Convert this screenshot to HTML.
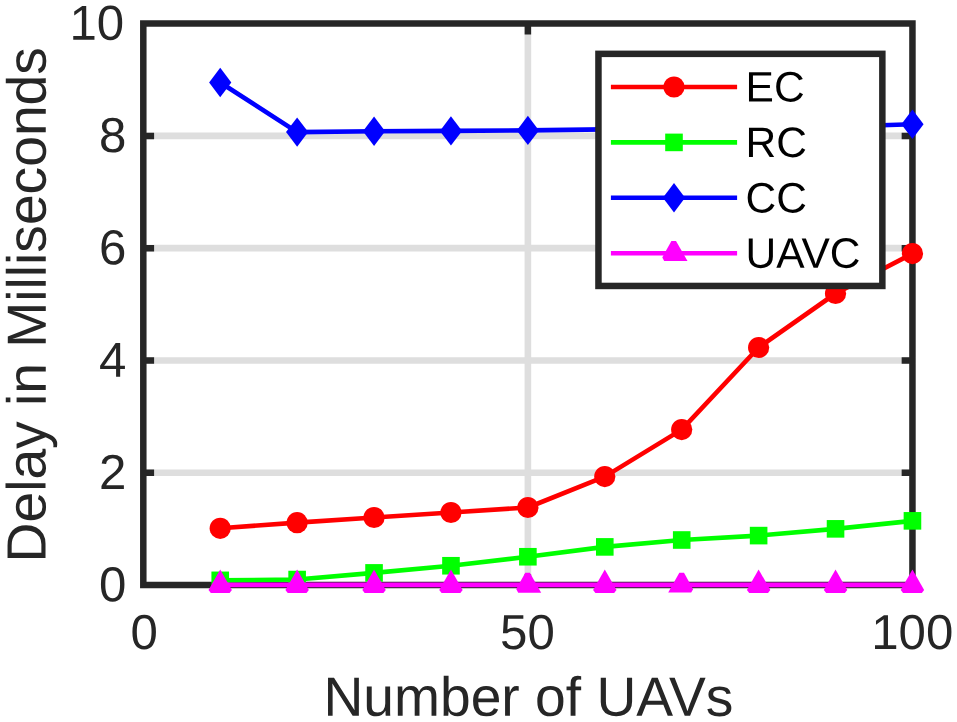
<!DOCTYPE html><html><head><meta charset="utf-8"><title>Delay vs Number of UAVs</title><style>html,body{margin:0;padding:0;background:#fff;}svg{display:block;will-change:transform;}text{font-family:"Liberation Sans",sans-serif;}</style></head><body>
<svg width="957" height="722" viewBox="0 0 957 722">
<rect width="957" height="722" fill="#fff"/>
<path d="M143.3 472.72H912.45M143.3 360.44H912.45M143.3 248.16H912.45M143.3 135.88H912.45M527.88 585V23.6" stroke="#dedede" stroke-width="6.6" fill="none"/>
<path d="M143.3 585H154.1M912.45 585H901.65M143.3 472.72H154.1M912.45 472.72H901.65M143.3 360.44H154.1M912.45 360.44H901.65M143.3 248.16H154.1M912.45 248.16H901.65M143.3 135.88H154.1M912.45 135.88H901.65M143.3 23.6H154.1M912.45 23.6H901.65M143.3 585V574.2M143.3 23.6V34.4M527.88 585V574.2M527.88 23.6V34.4M912.45 585V574.2M912.45 23.6V34.4M143.3 23.6H912.45V585H143.3Z" stroke="#262626" stroke-width="6.5" fill="none"/>
<text transform="matrix(1 0.0005 0 1 124.2 39.8)" text-anchor="end" font-size="49.2" fill="#262626">10</text>
<text transform="matrix(1 0.0005 0 1 126.3 152.08)" text-anchor="end" font-size="49.2" fill="#262626">8</text>
<text transform="matrix(1 0.0005 0 1 126.3 264.36)" text-anchor="end" font-size="49.2" fill="#262626">6</text>
<text transform="matrix(1 0.0005 0 1 126.3 376.64)" text-anchor="end" font-size="49.2" fill="#262626">4</text>
<text transform="matrix(1 0.0005 0 1 126.3 488.92)" text-anchor="end" font-size="49.2" fill="#262626">2</text>
<text transform="matrix(1 0.0005 0 1 126.3 601.2)" text-anchor="end" font-size="49.2" fill="#262626">0</text>
<text transform="matrix(1 0.0005 0 1 144.1 649)" text-anchor="middle" font-size="49.2" fill="#262626">0</text>
<text transform="matrix(1 0.0005 0 1 527.4 649)" text-anchor="middle" font-size="49.2" fill="#262626">50</text>
<text transform="matrix(1 0.0005 0 1 912.3 649)" text-anchor="middle" font-size="49.2" fill="#262626">100</text>
<text transform="matrix(1 0.0005 0 1 528.4 715.8)" text-anchor="middle" font-size="55.2" fill="#262626">Number of UAVs</text>
<text transform="matrix(0.0005 -1 1 0.0005 45.7 304.75)" text-anchor="middle" font-size="55.2" fill="#262626">Delay in Milliseconds</text>
<polyline points="220.22,528.3 297.13,522.65 374.05,517.5 450.96,512.5 527.88,507.5 604.79,476.6 681.71,429.6 758.62,347.5 835.54,293.5 912.45,253.6" stroke="#ff0000" stroke-width="4.6" fill="none" stroke-linejoin="round"/>
<circle cx="220.22" cy="528.3" r="10.6" fill="#ff0000"/>
<circle cx="297.13" cy="522.65" r="10.6" fill="#ff0000"/>
<circle cx="374.05" cy="517.5" r="10.6" fill="#ff0000"/>
<circle cx="450.96" cy="512.5" r="10.6" fill="#ff0000"/>
<circle cx="527.88" cy="507.5" r="10.6" fill="#ff0000"/>
<circle cx="604.79" cy="476.6" r="10.6" fill="#ff0000"/>
<circle cx="681.71" cy="429.6" r="10.6" fill="#ff0000"/>
<circle cx="758.62" cy="347.5" r="10.6" fill="#ff0000"/>
<circle cx="835.54" cy="293.5" r="10.6" fill="#ff0000"/>
<circle cx="912.45" cy="253.6" r="10.6" fill="#ff0000"/>
<polyline points="220.22,580.35 297.13,579.55 374.05,572.9 450.96,565.75 527.88,556.75 604.79,546.9 681.71,540 758.62,535.6 835.54,528.85 912.45,520.85" stroke="#00ff00" stroke-width="4.6" fill="none" stroke-linejoin="round"/>
<rect x="211.42" y="571.55" width="17.6" height="17.6" fill="#00ff00"/>
<rect x="288.33" y="570.75" width="17.6" height="17.6" fill="#00ff00"/>
<rect x="365.25" y="564.1" width="17.6" height="17.6" fill="#00ff00"/>
<rect x="442.16" y="556.95" width="17.6" height="17.6" fill="#00ff00"/>
<rect x="519.08" y="547.95" width="17.6" height="17.6" fill="#00ff00"/>
<rect x="595.99" y="538.1" width="17.6" height="17.6" fill="#00ff00"/>
<rect x="672.91" y="531.2" width="17.6" height="17.6" fill="#00ff00"/>
<rect x="749.82" y="526.8" width="17.6" height="17.6" fill="#00ff00"/>
<rect x="826.74" y="520.05" width="17.6" height="17.6" fill="#00ff00"/>
<rect x="903.65" y="512.05" width="17.6" height="17.6" fill="#00ff00"/>
<polyline points="220.22,82.55 297.13,132.1 374.05,131.3 450.96,130.9 527.88,130.4 604.79,129.4 681.71,128.6 758.62,127.8 835.54,126.7 912.45,124.2" stroke="#0000ff" stroke-width="4.6" fill="none" stroke-linejoin="round"/>
<path d="M220.22 67.85L231.32 82.55L220.22 97.25L209.12 82.55Z" fill="#0000ff"/>
<path d="M297.13 117.4L308.23 132.1L297.13 146.8L286.03 132.1Z" fill="#0000ff"/>
<path d="M374.05 116.6L385.15 131.3L374.05 146L362.95 131.3Z" fill="#0000ff"/>
<path d="M450.96 116.2L462.06 130.9L450.96 145.6L439.86 130.9Z" fill="#0000ff"/>
<path d="M527.88 115.7L538.98 130.4L527.88 145.1L516.77 130.4Z" fill="#0000ff"/>
<path d="M604.79 114.7L615.89 129.4L604.79 144.1L593.69 129.4Z" fill="#0000ff"/>
<path d="M681.71 113.9L692.81 128.6L681.71 143.3L670.61 128.6Z" fill="#0000ff"/>
<path d="M758.62 113.1L769.72 127.8L758.62 142.5L747.52 127.8Z" fill="#0000ff"/>
<path d="M835.54 112L846.64 126.7L835.54 141.4L824.44 126.7Z" fill="#0000ff"/>
<path d="M912.45 109.5L923.55 124.2L912.45 138.9L901.35 124.2Z" fill="#0000ff"/>
<polyline points="220.22,584.85 297.13,584.85 374.05,584.85 450.96,584.85 527.88,584.85 604.79,584.85 681.71,584.85 758.62,584.85 835.54,584.85 912.45,584.85" stroke="#ff00ff" stroke-width="4.6" fill="none" stroke-linejoin="round"/>
<polygon points="220.22,569.45 231.92,589.95 229.62,593.05 210.82,593.05 208.52,589.95" fill="#ff00ff"/>
<polygon points="297.13,569.45 308.83,589.95 306.53,593.05 287.73,593.05 285.43,589.95" fill="#ff00ff"/>
<polygon points="374.05,569.45 385.75,589.95 383.45,593.05 364.65,593.05 362.35,589.95" fill="#ff00ff"/>
<polygon points="450.96,569.45 462.66,589.95 460.36,593.05 441.56,593.05 439.26,589.95" fill="#ff00ff"/>
<polygon points="525.27,572.65 529.88,572.65 541.17,592.65 518.17,592.75 516.27,588.95" fill="#ff00ff"/>
<polygon points="604.79,569.45 616.49,589.95 614.19,593.05 595.39,593.05 593.09,589.95" fill="#ff00ff"/>
<polygon points="679.31,572.65 684.01,572.65 693.11,589.25 691.21,592.55 668.21,592.55" fill="#ff00ff"/>
<polygon points="758.62,569.45 770.32,589.95 768.02,593.05 749.22,593.05 746.92,589.95" fill="#ff00ff"/>
<polygon points="835.54,569.45 847.24,589.95 844.94,593.05 826.14,593.05 823.84,589.95" fill="#ff00ff"/>
<polygon points="912.45,569.45 924.15,589.95 921.85,593.05 903.05,593.05 900.75,589.95" fill="#ff00ff"/>
<rect x="598.45" y="53.85" width="283.9" height="232.1" fill="#fff" stroke="#262626" stroke-width="6.5"/>
<path d="M610.9 87.0H737.1" stroke="#ff0000" stroke-width="4.6"/>
<circle cx="674" cy="87" r="10.6" fill="#ff0000"/>
<text transform="matrix(1 0.0005 0 1 745.6 101.6)" font-size="42.5" fill="#000">EC</text>
<path d="M610.9 142.4H737.1" stroke="#00ff00" stroke-width="4.6"/>
<rect x="665.2" y="133.6" width="17.6" height="17.6" fill="#00ff00"/>
<text transform="matrix(1 0.0005 0 1 745.6 157)" font-size="42.5" fill="#000">RC</text>
<path d="M610.9 197.8H737.1" stroke="#0000ff" stroke-width="4.6"/>
<path d="M674 183.1L685.1 197.8L674 212.5L662.9 197.8Z" fill="#0000ff"/>
<text transform="matrix(1 0.0005 0 1 745.6 212.4)" font-size="42.5" fill="#000">CC</text>
<path d="M610.9 253.2H737.1" stroke="#ff00ff" stroke-width="4.6"/>
<polygon points="671.4,241 676,241 687.5,261 664.2,261 662.3,257.4" fill="#ff00ff"/>
<text transform="matrix(1 0.0005 0 1 745.6 267.8)" font-size="42.5" fill="#000">UAVC</text>
</svg></body></html>
